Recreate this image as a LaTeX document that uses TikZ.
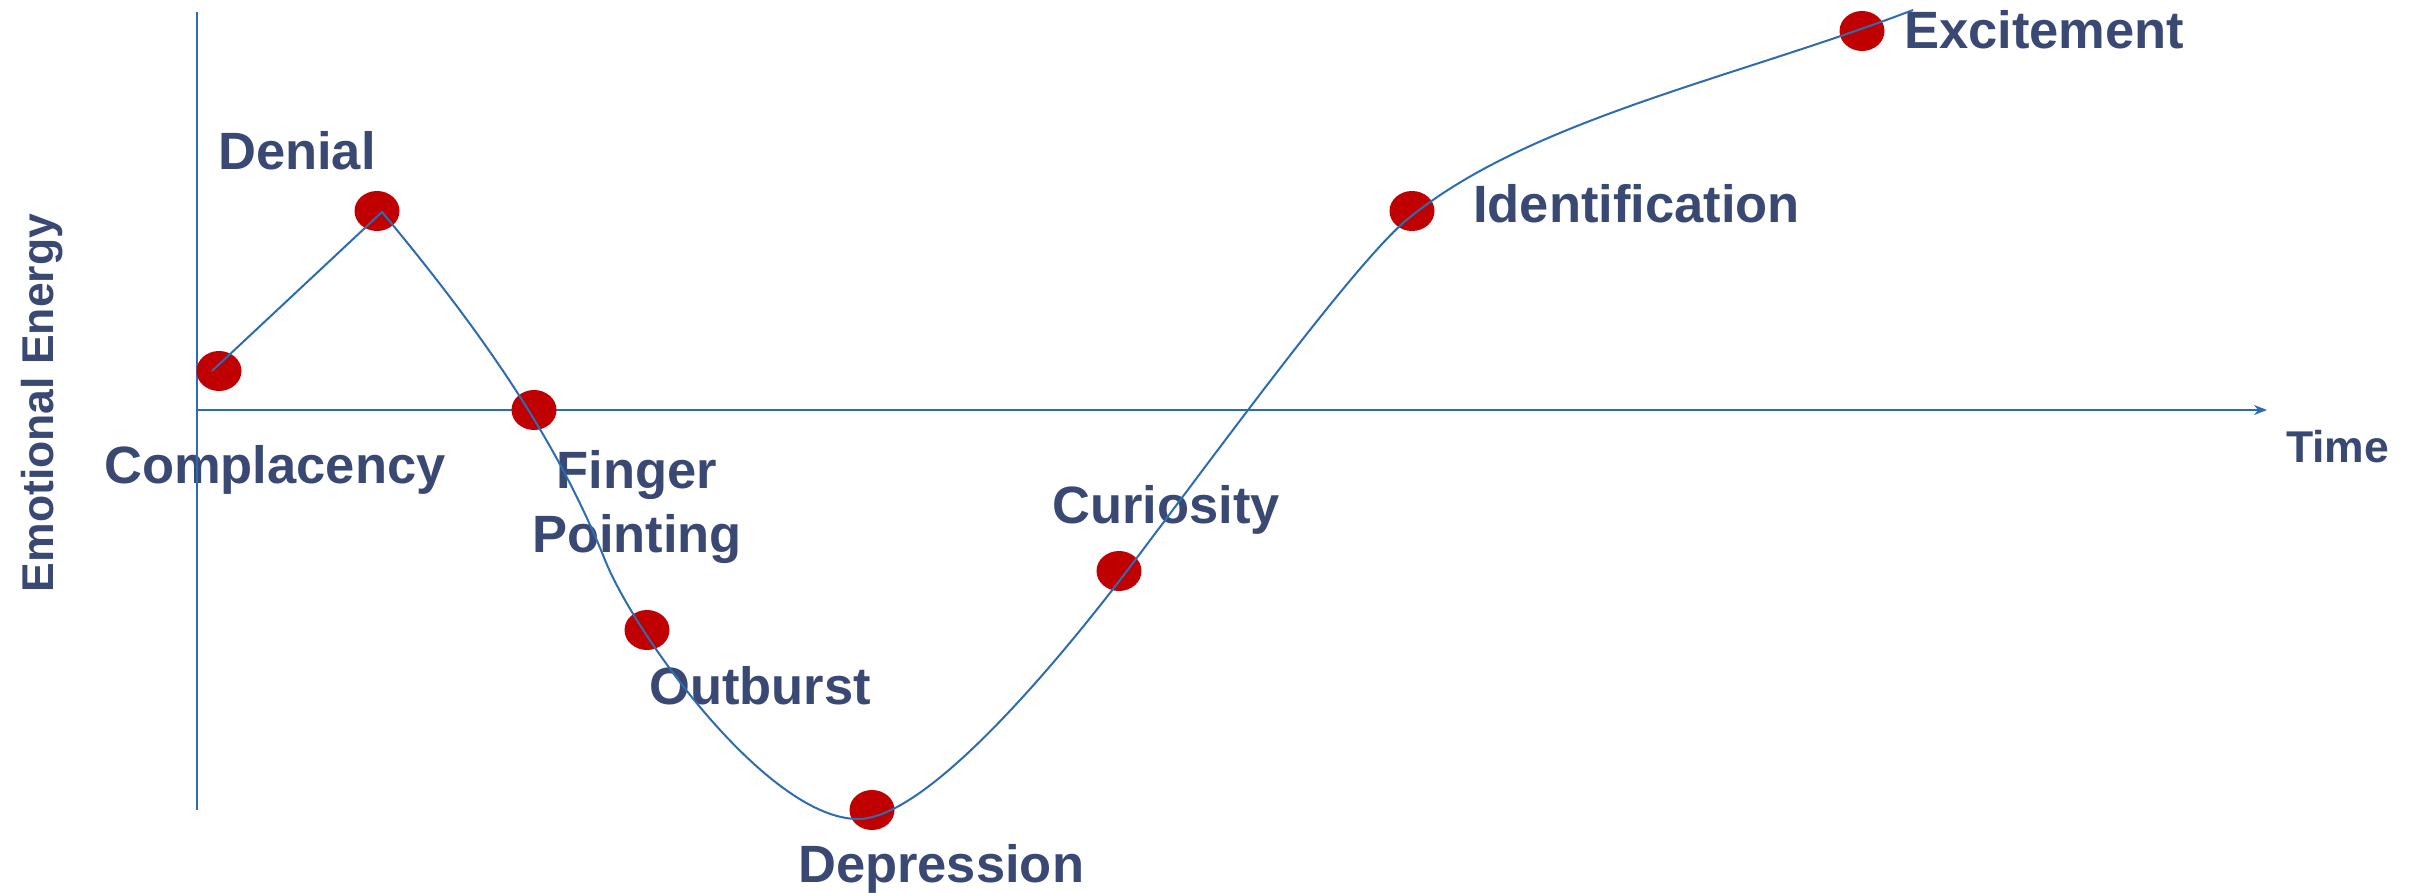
\documentclass[tikz,border=0pt]{standalone}
\usepackage{fontspec}
\setmainfont{Liberation Sans}
\usetikzlibrary{arrows.meta,shapes.geometric}
\definecolor{labelblue}{RGB}{57,73,115}
\definecolor{curveblue}{RGB}{46,108,178}
\definecolor{dotred}{RGB}{192,0,0}
\begin{document}
\begin{tikzpicture}[x=1pt,y=-1pt,
  lbl/.style={text=labelblue,font=\fontsize{52.5}{63}\selectfont\bfseries,inner sep=0pt,anchor=base west},
  axislbl/.style={text=labelblue,font=\fontsize{44.5}{53}\selectfont\bfseries,inner sep=0pt},
  axisline/.style={draw=curveblue,line width=2pt},
  stage/.style={ellipse,fill=dotred,minimum width=45pt,minimum height=40pt,inner sep=0pt},
  curve/.style={draw=curveblue,line width=2pt}]
\fill[white] (0,0) rectangle (2409,893);
\useasboundingbox (0,0) rectangle (2409,893);

% stage labels
\node[lbl] (tdenial) at (218,170) {Denial};
\node[lbl] (tcompl) at (104,483) {Complacency};
\node[lbl,anchor=base] (tfinger) at (637,488) {Finger};
\node[lbl,anchor=base] (tpoint) at (637,552) {Pointing};
\node[lbl] (toutb) at (649,704) {Outburst};
\node[lbl] (tdepr) at (798,882) {Depression};
\node[lbl] (tcur) at (1052,523) {Curiosity};
\node[lbl] (tident) at (1473,223) {Identification};
\node[lbl] (texcit) at (1904,49) {Excitement};

% axis titles
\node[axislbl,anchor=base west] (ttime) at (2286,462) {Time};
\node[axislbl,rotate=90,anchor=base] (tenergy) at (53,403) {Emotional Energy};

% axes
\coordinate (yaxtop) at (197,12);
\coordinate (yaxbot) at (197,810);
\coordinate (origin) at (197,410);
\coordinate (xaxend) at (2267,410);
\draw[axisline] (yaxbot) -- (yaxtop);
\draw[axisline,-{Stealth[length=13pt,width=10pt]}] (origin) -- (xaxend);

% stage markers
\node[stage] (complacency) at (219,371) {};
\node[stage] (denial) at (377,211) {};
\node[stage] (finger) at (534,410) {};
\node[stage] (outburst) at (647,630) {};
\node[stage] (depression) at (872,810) {};
\node[stage] (curiosity) at (1119,571) {};
\node[stage] (identification) at (1412,211) {};
\node[stage] (excitement) at (1862,31) {};

% emotional energy curve
\coordinate (c0) at (212,371);
\coordinate (c1) at (382,212);
\coordinate (c2) at (605,560);
\coordinate (c3) at (858,819);
\coordinate (c4) at (1120,580);
\coordinate (c5) at (1403,223);
\coordinate (c6) at (1913,10);
\draw[curve] (c0) -- (c1)
  .. controls (492,344) and (560,448) .. (c2)
  .. controls (635,635) and (768,819) .. (c3)
  .. controls (928,819) and (1060,658) .. (c4)
  .. controls (1195,482) and (1343,277) .. (c5)
  .. controls (1523,121) and (1733,79) .. (c6);
\end{tikzpicture}
\end{document}
